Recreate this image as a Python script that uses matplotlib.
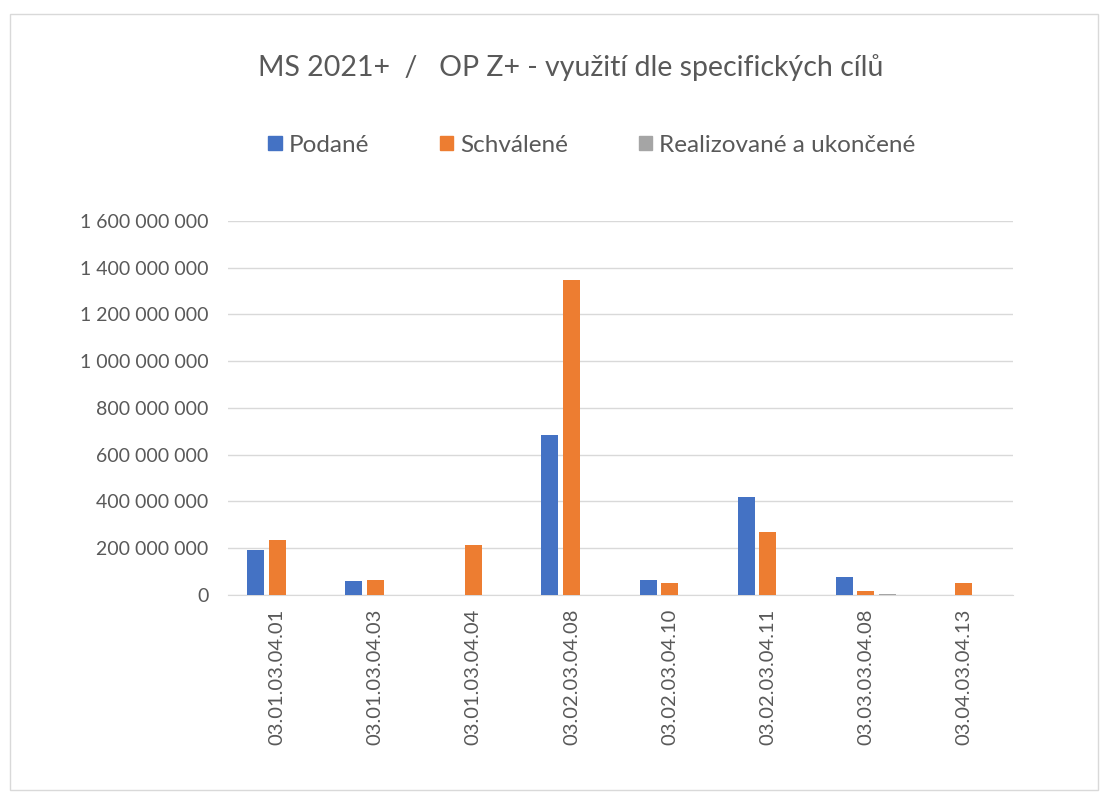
import matplotlib
matplotlib.use("Agg")
import matplotlib.pyplot as plt
import numpy as np
from matplotlib.patches import Rectangle

categories = ["03.01.03.04.01", "03.01.03.04.03", "03.01.03.04.04", "03.02.03.04.08",
              "03.02.03.04.10", "03.02.03.04.11", "03.03.03.04.08", "03.04.03.04.13"]
podane = [192e6, 61e6, 0, 684e6, 64e6, 419e6, 77e6, 0]
schvalene = [234e6, 64e6, 212e6, 1348e6, 51e6, 270e6, 16e6, 50e6]
realizovane = [0, 0, 0, 0, 0, 0, 6e6, 0]
series_names = ["Podané", "Schválené", "Realizované a ukončené"]
colors = ["#4472C4", "#ED7D31", "#A5A5A5"]
yticks = [0, 200e6, 400e6, 600e6, 800e6, 1000e6, 1200e6, 1400e6, 1600e6]

plt.rcParams['font.family'] = ['Lato', 'DejaVu Sans']
txt = "#595959"

fig = plt.figure(figsize=(11.08, 8.05), dpi=100)
fig.patches.append(Rectangle((10/1108, 1-790/805), 1088/1108, 776/805, transform=fig.transFigure,
                             fill=False, edgecolor="#d9d9d9", linewidth=1))
ax = fig.add_axes([228/1108, 1-595/805, 785/1108, 374/805])

x = np.arange(len(categories))
w = 0.173
step = 0.219
for i, (vals, c) in enumerate(zip([podane, schvalene, realizovane], colors)):
    ax.bar(x + (i - 1) * step, vals, width=w, color=c, zorder=3)

ax.set_xlim(-0.5, len(categories) - 0.5)
ax.set_ylim(0, 1600e6)
ax.set_yticks(yticks)
ax.set_yticklabels([f"{int(v):,}".replace(",", " ") for v in yticks], fontsize=14, color=txt)
ax.set_xticks(x)
ax.set_xticklabels(categories, rotation=90, fontsize=14.5, color=txt)
ax.tick_params(axis='x', length=0, pad=10)
ax.tick_params(axis='y', length=0, pad=14)
ax.grid(axis='y', color="#d9d9d9", linewidth=1, zorder=0)
for s in ["top", "right", "left"]:
    ax.spines[s].set_visible(False)
ax.spines["bottom"].set_color("#d9d9d9")

fig.text(571/1108, 1-68/805, "MS 2021+  /   OP Z+ - využití dle specifických cílů",
         ha="center", va="center", fontsize=20.5, color=txt)

handles = [Rectangle((0, 0), 1, 1, color=c) for c in colors]
fig.legend(handles, series_names, loc="center", bbox_to_anchor=(592/1108, 1-145/805),
           ncol=3, frameon=False, fontsize=17.5, labelcolor=txt, handlelength=0.55,
           handleheight=0.55, handletextpad=0.3, columnspacing=2.9)

fig.savefig("out.png", dpi=100)
